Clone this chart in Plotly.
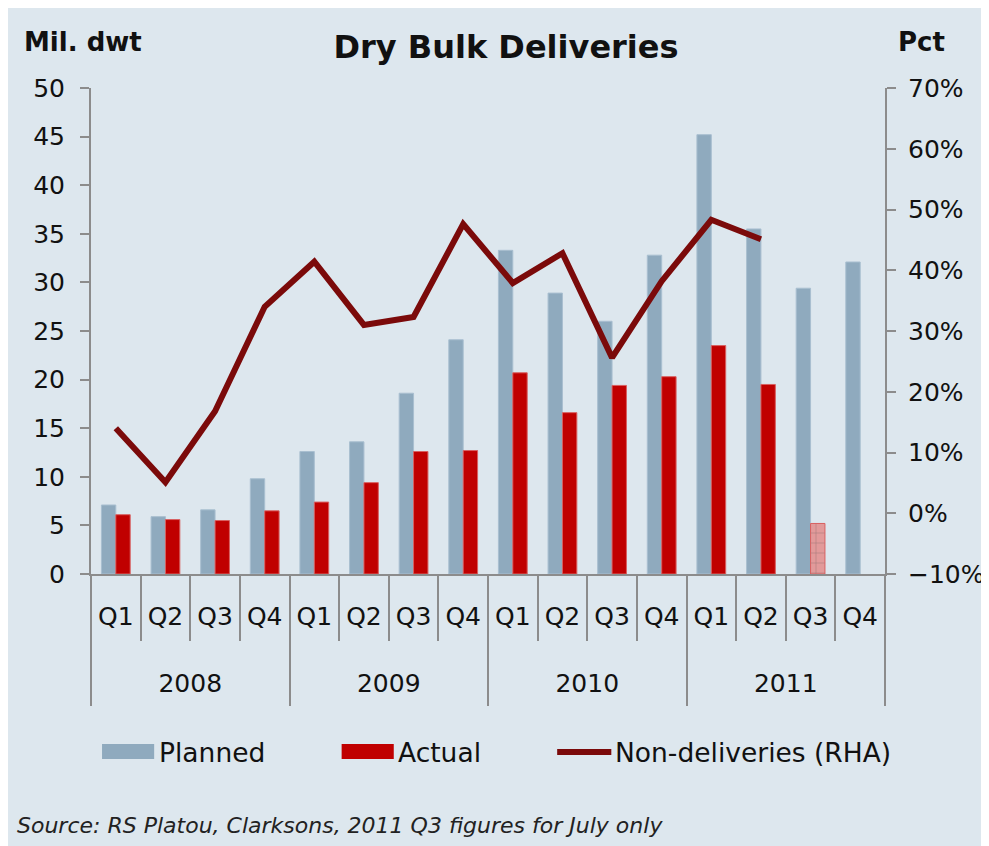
import plotly.graph_objects as go

# --- DATA ---
YEARS = ["2008", "2009", "2010", "2011"]
QUARTERS = ["Q1", "Q2", "Q3", "Q4"] * 4
PLANNED = [7.1, 5.9, 6.6, 9.8, 12.6, 13.6, 18.6, 24.1,
           33.3, 28.9, 26.0, 32.8, 45.2, 35.5, 29.4, 32.1]
ACTUAL = [6.1, 5.6, 5.5, 6.5, 7.4, 9.4, 12.6, 12.7,
          20.7, 16.6, 19.4, 20.3, 23.5, 19.5, 5.2, None]
NON_DELIVERIES = [14.0, 5.1, 16.8, 34.0, 41.4, 31.0, 32.3, 47.6,
                  37.9, 42.8, 25.6, 38.2, 48.3, 45.1, None, None]
SERIES_NAMES = ["Planned", "Actual", "Non-deliveries (RHA)"]

# --- STYLE ---
BG = "#DDE7EE"
BLUE = "#8FAABE"
RED = "#C00000"
LINE_RED = "#7B0A0A"
AXIS_GREY = "#8C8C8C"
FONT = "DejaVu Sans"

# plot area in screen pixels (page has 8px body margin)
PL, PR, PT, PB = 91, 883, 88, 574


def px(x):
    return (x - PL) / (PR - PL)


def py(y):
    return (PB - y) / (PB - PT)


n = len(QUARTERS)
xs = list(range(n))
boundaries = [i - 0.5 for i in range(n + 1)]
year_bounds = [i * 4 - 0.5 for i in range(len(YEARS) + 1)]
year_centers = [i * 4 + 1.5 for i in range(len(YEARS))]

# last actual (2011 Q3, July only) is hatched
partial = [i == 14 for i in xs]
act_colors = ["#E29A9A" if p else RED for p in partial]
act_shapes = ["+" if p else "" for p in partial]

fig = go.Figure()
fig.add_trace(go.Bar(
    x=xs, y=PLANNED, name=SERIES_NAMES[0],
    marker=dict(color=BLUE, line=dict(color="#A9BFD0", width=1)),
))
fig.add_trace(go.Bar(
    x=xs, y=ACTUAL, name=SERIES_NAMES[1],
    marker=dict(color=act_colors, line=dict(color="#D86060", width=1),
                pattern=dict(shape=act_shapes, fgcolor=RED, size=10,
                             solidity=0.08, fillmode="overlay")),
))
# line sits on x2/y2 so the year axis (x2) gets drawn
fig.add_trace(go.Scatter(
    x=xs, y=NON_DELIVERIES, name=SERIES_NAMES[2], xaxis="x2", yaxis="y2",
    mode="lines", line=dict(color=LINE_RED, width=6),
))

axis_common = dict(range=[-0.5, n - 0.5], showgrid=False, zeroline=False,
                   fixedrange=True)

# hand-made legend (wide swatches like the original)
shapes = [
    dict(type="rect", xref="paper", yref="paper", x0=px(102), x1=px(154),
         y0=py(759), y1=py(744), fillcolor=BLUE, line=dict(width=0)),
    dict(type="rect", xref="paper", yref="paper", x0=px(341), x1=px(393),
         y0=py(759), y1=py(744), fillcolor=RED, line=dict(width=0)),
    dict(type="line", xref="paper", yref="paper", x0=px(556), x1=px(610),
         y0=py(752), y1=py(752), line=dict(color=LINE_RED, width=6)),
]
legend_text_x = [160, 398, 615]
annotations = [
    dict(text=name, xref="paper", yref="paper", x=px(tx) - 0.004, y=py(752),
         xanchor="left", yanchor="middle", showarrow=False, font=dict(size=26.5))
    for name, tx in zip(SERIES_NAMES, legend_text_x)
]
annotations += [
    dict(text="<b>Mil. dwt</b>", xref="paper", yref="paper",
         x=px(25) - 0.004, y=py(42), xanchor="left", yanchor="middle",
         showarrow=False, font=dict(size=26)),
    dict(text="<b>Pct</b>", xref="paper", yref="paper",
         x=px(897) - 0.004, y=py(42), xanchor="left", yanchor="middle",
         showarrow=False, font=dict(size=26)),
    dict(text="<i>Source: RS Platou, Clarksons, 2011 Q3 figures for July only</i>",
         xref="paper", yref="paper", x=px(18) - 0.004, y=py(825),
         xanchor="left", yanchor="middle", showarrow=False,
         font=dict(size=22, color="#222222")),
]

fig.update_layout(
    width=989, height=846,
    paper_bgcolor=BG, plot_bgcolor=BG,
    margin=dict(l=PL - 8, r=109, t=PT - 8, b=846 - PB + 8),
    font=dict(family=FONT, size=25, color="#111111"),
    barmode="group", bargap=0.42, bargroupgap=0,
    showlegend=False,
    title=dict(text="<b>Dry Bulk Deliveries</b>", x=(506 - 8) / 989, xanchor="center",
               y=1 - (47 - 8) / 846, yanchor="middle", font=dict(size=32, color="#111111")),
    # quarter labels + quarter boundary ticks
    xaxis=dict(**axis_common, tickmode="array", tickvals=xs, ticktext=QUARTERS,
               ticks="", ticklabelstandoff=19,
               minor=dict(tickmode="array", tickvals=boundaries, ticks="outside",
                          ticklen=65, tickwidth=2, tickcolor=AXIS_GREY),
               showline=True, linecolor=AXIS_GREY, linewidth=2),
    # year labels + year boundary ticks
    xaxis2=dict(**axis_common, overlaying="x", anchor="y", side="bottom",
                tickmode="array", tickvals=year_centers, ticktext=YEARS, ticks="",
                ticklabelstandoff=92,
                minor=dict(tickmode="array", tickvals=year_bounds, ticks="outside",
                           ticklen=131, tickwidth=2, tickcolor=AXIS_GREY),
                showline=False),
    yaxis=dict(range=[0, 50], dtick=5, showgrid=False, zeroline=False,
               showline=True, linecolor=AXIS_GREY, linewidth=2,
               ticks="outside", ticklen=9, tickwidth=2, tickcolor=AXIS_GREY,
               ticklabelstandoff=10, fixedrange=True),
    yaxis2=dict(range=[-10, 70], dtick=10, ticksuffix="%", overlaying="y",
                side="right", anchor="x", showgrid=False, zeroline=False,
                showline=True, linecolor=AXIS_GREY, linewidth=2,
                ticks="outside", ticklen=9, tickwidth=2, tickcolor=AXIS_GREY,
                ticklabelstandoff=7, fixedrange=True),
    shapes=shapes,
    annotations=annotations,
)

fig.write_html("out.html")
